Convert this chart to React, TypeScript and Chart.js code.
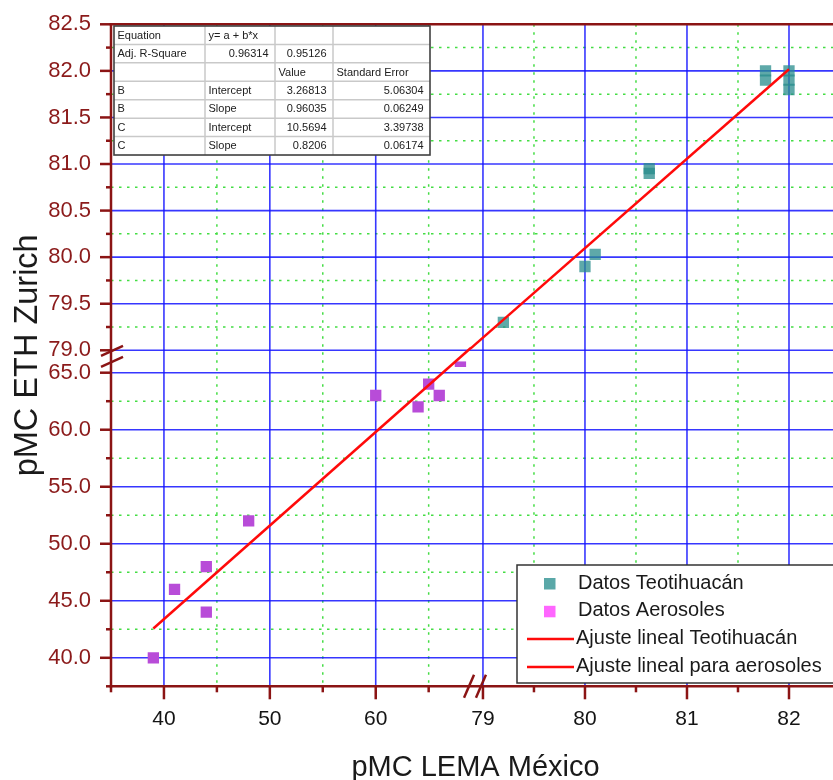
import React, { useEffect, useRef } from 'react';
import { Chart, registerables } from 'chart.js';

Chart.register(...registerables);

const FONT = '"Liberation Sans", Arial, Helvetica, sans-serif';

// pMC of the Teotihuacán samples: LEMA México (x) vs ETH Zurich (y)
const teoLema = [79.2, 80.0, 80.1, 80.63, 80.63, 81.77, 81.77, 82.0, 82.0, 82.0];
const teoEth = [79.3, 79.9, 80.03, 80.9, 80.95, 82.0, 81.9, 82.0, 81.9, 81.8];

// pMC of the aerosol samples: LEMA México (x) vs ETH Zurich (y)
const aerLema = [39, 41, 44, 44, 48, 60, 64, 65, 66, 68];
const aerEth = [40, 46, 48, 44, 52, 63, 62, 64, 63, 66];

// Linear fit results: index 0 = B (Teotihuacán), index 1 = C (aerosoles)
const fitNames = ['B', 'C'];
const fitIntercepts = [3.26813, 10.5694];
const fitInterceptErrors = [5.06304, 3.39738];
const fitSlopes = [0.96035, 0.8206];
const fitSlopeErrors = [0.06249, 0.06174];
const fitAdjR2 = [0.96314, 0.95126];
const fitRanges = [
  [78.88, 82],
  [39, 69],
];

// Axis segments on each side of the breaks
const xLowRange = [35, 69];
const xHighRange = [79, 82.5];
const yLowRange = [37.5, 66];
const yHighRange = [79, 82.5];

// Labelled tick values
const xLowTicks = [40, 50, 60];
const xHighTicks = [79, 80, 81, 82];
const yLowTicks = [40, 45, 50, 55, 60, 65];
const yHighTicks = [79, 79.5, 80, 80.5, 81, 81.5, 82, 82.5];

const xTitle = 'pMC LEMA México';
const yTitle = 'pMC ETH Zurich';

const AXIS = '#8b1414';
const AXIS_LABEL = '#8b1a1a';
const GRID_MAJOR = 'rgba(20,20,255,0.85)';
const GRID_MINOR = '#44dd44';
const RED = '#ff0a0a';
const TEAL = 'rgba(40,140,140,0.75)';
const TEAL_KEY = '#5aa8a8';
const PURPLE = '#b84cd8';
const PINK_KEY = '#ff66ff';
const TEXT = '#1a1a1a';

const CANVAS_W = 848;
const CANVAS_H = 780;
const Y_AXIS_W = 111;
const X_AXIS_H = 93.7;

type AxisSpec = {
  id: string;
  range: number[];
  step: number;
  labels: number[];
  decimals: number;
  horizontal: boolean;
};

const AXES: AxisSpec[] = [
  { id: 'xLo', range: xLowRange, step: 5, labels: xLowTicks, decimals: 0, horizontal: true },
  { id: 'xHi', range: xHighRange, step: 0.5, labels: xHighTicks, decimals: 0, horizontal: true },
  { id: 'yHi', range: yHighRange, step: 0.25, labels: yHighTicks, decimals: 1, horizontal: false },
  { id: 'yLo', range: yLowRange, step: 2.5, labels: yLowTicks, decimals: 1, horizontal: false },
];

const near = (a: number, b: number) => Math.abs(a - b) < 1e-6;
const isLabelled = (v: number, labels: number[]) => labels.some((l) => near(l, v));
const onStep = (v: number, step: number) => near(v / step, Math.round(v / step));

function valueScale(spec: AxisSpec, order: number, stackWeight: number) {
  return {
    type: 'linear',
    position: spec.horizontal ? 'bottom' : 'left',
    stack: spec.horizontal ? 'xstack' : 'ystack',
    stackWeight,
    weight: order,
    min: spec.range[0],
    max: spec.range[1],
    bounds: 'data',
    grid: { display: false, drawTicks: true, tickLength: 20 },
    border: { display: false },
    ticks: {
      stepSize: spec.step,
      includeBounds: false,
      autoSkip: false,
      maxRotation: 0,
      minRotation: 0,
      padding: 0,
      color: spec.horizontal ? '#141414' : AXIS_LABEL,
      font: { family: FONT, size: spec.horizontal ? 21 : 22 },
      callback: (v: any) =>
        isLabelled(Number(v), spec.labels) ? Number(v).toFixed(spec.decimals) : '',
    },
    afterBuildTicks: (s: any) => {
      s.ticks = s.ticks.filter((t: any) => onStep(t.value, spec.step));
    },
    afterFit: (s: any) => {
      if (spec.horizontal) s.height = X_AXIS_H;
      else s.width = Y_AXIS_W;
    },
  };
}

// empty spacer occupying the break between two axis segments
function gapScale(horizontal: boolean, order: number, stackWeight: number) {
  return {
    type: 'linear',
    position: horizontal ? 'bottom' : 'left',
    stack: horizontal ? 'xstack' : 'ystack',
    stackWeight,
    weight: order,
    min: 0,
    max: 1,
    grid: { display: false, drawTicks: false },
    border: { display: false },
    ticks: { display: false },
    afterFit: (s: any) => {
      if (horizontal) s.height = X_AXIS_H;
      else s.width = Y_AXIS_W;
    },
  };
}

const fitLine = (k: number) =>
  fitRanges[k].map((x) => ({ x, y: fitIntercepts[k] + fitSlopes[k] * x }));

const POINT_SETS = new Set([2, 3]);

function seg(ctx: CanvasRenderingContext2D, x1: number, y1: number, x2: number, y2: number) {
  ctx.beginPath();
  ctx.moveTo(x1, y1);
  ctx.lineTo(x2, y2);
  ctx.stroke();
}

function drawGrid(chart: any) {
  const { ctx, chartArea: a } = chart;
  ctx.save();
  for (const major of [false, true]) {
    ctx.setLineDash(major ? [] : [2.5, 5.5]);
    ctx.strokeStyle = major ? GRID_MAJOR : GRID_MINOR;
    ctx.lineWidth = major ? 1.6 : 1.5;
    for (const spec of AXES) {
      const s = chart.scales[spec.id];
      for (const t of s.ticks) {
        if (isLabelled(t.value, spec.labels) !== major) continue;
        const p = s.getPixelForValue(t.value);
        if (spec.horizontal) seg(ctx, p, a.top, p, a.bottom);
        else seg(ctx, a.left, p, a.right, p);
      }
    }
  }
  ctx.restore();
}

function drawFrame(chart: any) {
  const { ctx, chartArea: a } = chart;
  ctx.save();
  ctx.strokeStyle = AXIS;
  ctx.lineWidth = 2.5;
  seg(ctx, a.left, a.top - 1.25, a.left, a.bottom + 1.25);
  seg(ctx, a.left - 1.25, a.bottom, a.right, a.bottom);
  seg(ctx, a.left - 1.25, a.top, a.right, a.top);
  for (const spec of AXES) {
    const s = chart.scales[spec.id];
    for (const t of s.ticks) {
      const major = isLabelled(t.value, spec.labels);
      const p = s.getPixelForValue(t.value);
      if (spec.horizontal) seg(ctx, p, a.bottom, p, a.bottom + (major ? 13 : 6));
      else seg(ctx, a.left, p, a.left - (major ? 11 : 5), p);
    }
  }
  // break marks
  const { yHi, yLo, xLo, xHi } = chart.scales;
  for (const y of [yHi.bottom, yLo.top]) seg(ctx, a.left - 10, y + 5.5, a.left + 12, y - 4.5);
  for (const x of [xLo.right, xHi.left]) seg(ctx, x - 7, a.bottom + 11.5, x + 3, a.bottom - 11.5);
  ctx.restore();
}

function drawTable(chart: any) {
  const { ctx, chartArea: a } = chart;
  const rows: (string | number)[][] = [
    ['Equation', 'y= a + b*x', '', ''],
    ['Adj. R-Square', fitAdjR2[0], fitAdjR2[1], ''],
    ['', '', 'Value', 'Standard Error'],
  ];
  fitNames.forEach((n, k) => {
    rows.push([n, 'Intercept', fitIntercepts[k], fitInterceptErrors[k]]);
    rows.push([n, 'Slope', fitSlopes[k], fitSlopeErrors[k]]);
  });
  const x0 = a.left + 3;
  const y0 = a.top + 1.7;
  const cols = [0, 91, 161, 219, 316];
  const rowH = 18.43;
  const w = cols[cols.length - 1];
  const h = rowH * rows.length;
  ctx.save();
  ctx.fillStyle = '#ffffff';
  ctx.fillRect(x0, y0, w, h);
  ctx.strokeStyle = '#c9c9c9';
  ctx.lineWidth = 1.5;
  for (let r = 1; r < rows.length; r++) seg(ctx, x0, y0 + r * rowH, x0 + w, y0 + r * rowH);
  for (let c = 1; c < cols.length - 1; c++) seg(ctx, x0 + cols[c], y0, x0 + cols[c], y0 + h);
  ctx.strokeStyle = '#404040';
  ctx.lineWidth = 1.6;
  ctx.strokeRect(x0, y0, w, h);
  ctx.fillStyle = '#202020';
  ctx.font = `11px ${FONT}`;
  ctx.textBaseline = 'middle';
  rows.forEach((row, r) => {
    const cy = y0 + r * rowH + rowH / 2 + 0.5;
    row.forEach((cell, c) => {
      if (cell === '') return;
      if (typeof cell === 'number') {
        ctx.textAlign = 'right';
        ctx.fillText(String(cell), x0 + cols[c + 1] - 6.5, cy);
      } else {
        ctx.textAlign = 'left';
        ctx.fillText(cell, x0 + cols[c] + 3.5, cy);
      }
    });
  });
  ctx.restore();
}

function drawLegend(chart: any) {
  const { ctx, chartArea: a } = chart;
  const ds = chart.data.datasets;
  const items = [
    { label: ds[2].label, kind: 'box', color: TEAL_KEY },
    { label: ds[3].label, kind: 'box', color: PINK_KEY },
    { label: ds[0].label, kind: 'line', color: RED },
    { label: ds[1].label, kind: 'line', color: RED },
  ];
  const x0 = a.left + 406;
  const y0 = a.top + 540.7;
  const w = 330;
  const h = 118;
  ctx.save();
  ctx.fillStyle = '#ffffff';
  ctx.fillRect(x0, y0, w, h);
  ctx.strokeStyle = '#333333';
  ctx.lineWidth = 1.5;
  ctx.strokeRect(x0, y0, w, h);
  ctx.font = `20px ${FONT}`;
  ctx.textBaseline = 'middle';
  ctx.textAlign = 'left';
  items.forEach((it, i) => {
    const cy = y0 + 18.5 + i * 27.8;
    if (it.kind === 'box') {
      ctx.fillStyle = it.color;
      ctx.fillRect(x0 + 27, cy - 5.5, 11.5, 11.5);
      ctx.fillStyle = TEXT;
      ctx.fillText(it.label, x0 + 61, cy - 0.5);
    } else {
      ctx.strokeStyle = it.color;
      ctx.lineWidth = 2.5;
      seg(ctx, x0 + 10, cy, x0 + 57, cy);
      ctx.fillStyle = TEXT;
      ctx.fillText(it.label, x0 + 59, cy - 0.5);
    }
  });
  ctx.restore();
}

function drawTitles(chart: any) {
  const { ctx, chartArea: a } = chart;
  ctx.save();
  ctx.fillStyle = TEXT;
  ctx.textAlign = 'center';
  ctx.textBaseline = 'alphabetic';
  ctx.font = `29px ${FONT}`;
  ctx.fillText(xTitle, (a.left + a.right) / 2, 776);
  ctx.font = `32.5px ${FONT}`;
  ctx.translate(37, (a.top + a.bottom) / 2);
  ctx.rotate(-Math.PI / 2);
  ctx.fillText(yTitle, 0, 0);
  ctx.restore();
}

const decorations = {
  id: 'pmcDecorations',
  beforeDatasetsDraw(chart: any) {
    drawGrid(chart);
  },
  beforeDatasetDraw(chart: any, args: any) {
    if (!POINT_SETS.has(args.index)) return;
    const xs = chart.scales[args.meta.xAxisID];
    const ys = chart.scales[args.meta.yAxisID];
    const ctx = chart.ctx;
    ctx.save();
    ctx.beginPath();
    ctx.rect(xs.left, ys.top, xs.right - xs.left, ys.bottom - ys.top);
    ctx.clip();
  },
  afterDatasetDraw(chart: any, args: any) {
    if (POINT_SETS.has(args.index)) chart.ctx.restore();
  },
  afterDraw(chart: any) {
    drawFrame(chart);
    drawTable(chart);
    drawLegend(chart);
    drawTitles(chart);
  },
};

export default function App() {
  const ref = useRef<HTMLCanvasElement>(null);

  useEffect(() => {
    const prev = document.body.style.overflow;
    document.body.style.overflow = 'hidden';
    const canvas = ref.current;
    if (!canvas) return;

    const chart = new Chart(canvas, {
      type: 'scatter',
      data: {
        datasets: [
          {
            label: 'Ajuste lineal Teotihuacán',
            data: fitLine(0),
            xAxisID: 'xHi',
            yAxisID: 'yHi',
            showLine: true,
            clip: false,
            borderColor: RED,
            borderWidth: 2.5,
            pointRadius: 0,
          },
          {
            label: 'Ajuste lineal para aerosoles',
            data: fitLine(1),
            xAxisID: 'xLo',
            yAxisID: 'yLo',
            showLine: true,
            clip: false,
            borderColor: RED,
            borderWidth: 2.5,
            pointRadius: 0,
          },
          {
            label: 'Datos Teotihuacán',
            data: teoLema.map((x, i) => ({ x, y: teoEth[i] })),
            xAxisID: 'xHi',
            yAxisID: 'yHi',
            showLine: false,
            clip: false,
            pointStyle: 'rect',
            pointRadius: 8,
            pointBackgroundColor: TEAL,
            pointBorderWidth: 0,
          },
          {
            label: 'Datos Aerosoles',
            data: aerLema.map((x, i) => ({ x, y: aerEth[i] })),
            xAxisID: 'xLo',
            yAxisID: 'yLo',
            showLine: false,
            pointStyle: 'rect',
            pointRadius: 8,
            pointBackgroundColor: PURPLE,
            pointBorderWidth: 0,
          },
        ],
      } as any,
      options: {
        responsive: false,
        animation: false,
        events: [],
        layout: { padding: { top: 24.3, right: 4, bottom: 0, left: 0 } },
        plugins: { legend: { display: false }, tooltip: { enabled: false } },
        scales: {
          xLo: valueScale(AXES[0], 1, 362),
          xGap: gapScale(true, 2, 12),
          xHi: valueScale(AXES[1], 3, 359),
          yHi: valueScale(AXES[2], 3, 326),
          yGap: gapScale(false, 2, 11),
          yLo: valueScale(AXES[3], 1, 325),
        },
      } as any,
      plugins: [decorations],
    });

    return () => {
      chart.destroy();
      document.body.style.overflow = prev;
    };
  }, []);

  return (
    <div style={{ position: 'fixed', left: 0, top: 0, width: CANVAS_W, height: CANVAS_H, background: '#fff' }}>
      <canvas ref={ref} width={CANVAS_W} height={CANVAS_H} style={{ display: 'block' }} />
    </div>
  );
}
